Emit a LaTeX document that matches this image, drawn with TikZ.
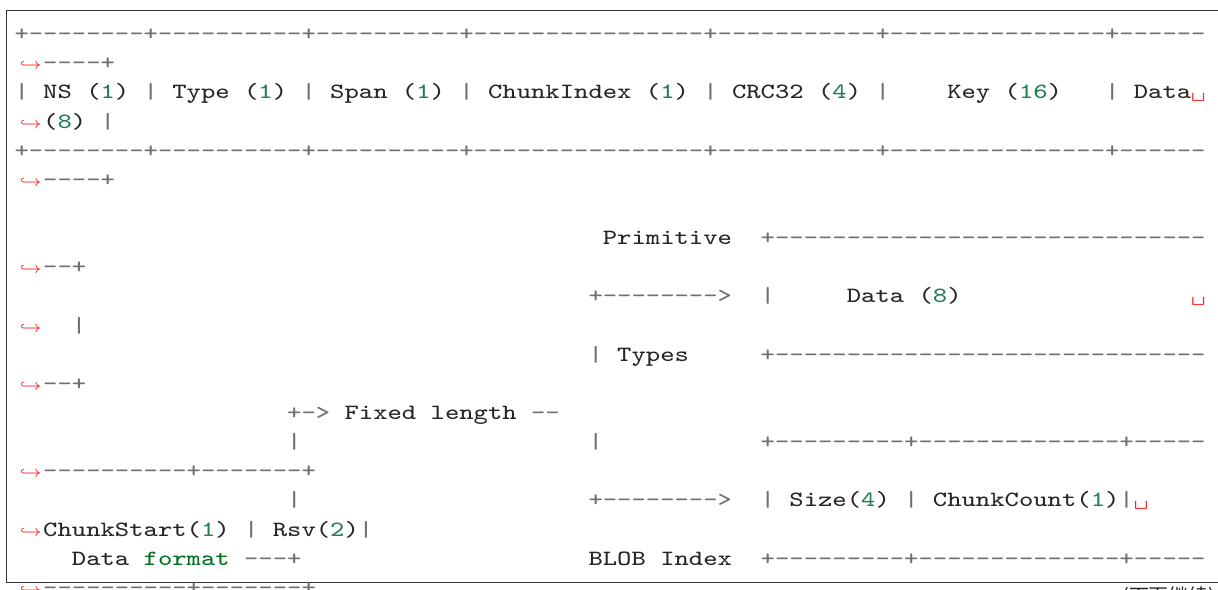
\documentclass[tikz,border=0pt]{standalone}
\usepackage{fontspec}
\usepackage{graphicx}
\newfontfamily\cjkfont{Noto Sans CJK SC}
\definecolor{op}{HTML}{707070}
\definecolor{num}{HTML}{208050}
\definecolor{bi}{HTML}{007020}
\definecolor{tx}{HTML}{262626}
\definecolor{brk}{HTML}{FF2020}
\definecolor{frm}{HTML}{333333}
\newlength\mycw
\newcommand\codefont{\fontsize{8.2pt}{10pt}\selectfont\ttfamily}
\newcommand\myrep[2]{\ifnum#1>0 #2\expandafter\myrep\expandafter{\the\numexpr#1-1\relax}{#2}\fi}
\newcommand\dsh[1]{\myrep{#1}{-\kern0pt}}
\newcommand\hsx[1]{\scalebox{\myfx}[1]{#1}}
\newcommand\ctok[5]{\node[code,text=#4] (#1) at (#2,#3) {\hsx{#5}};}
\newcommand\harr[2]{\node[brkarrow] (#1) at (1.9,#2) {$\hookrightarrow$};}
\tikzset{
  code/.style={anchor=base west, inner sep=0pt, outer sep=0pt, font=\codefont},
  brkarrow/.style={anchor=base east, inner sep=0pt, outer sep=0pt, text=brk, font=\fontsize{6pt}{7pt}\selectfont},
}
\AtBeginDocument{%
  \settowidth\mycw{\codefont xxxxxxxxxx}%
  \pgfmathsetmacro\myfx{54.006/\mycw}%
  \xdef\myfx{\myfx}%
}
\begin{document}
\begin{tikzpicture}[x=0.37635pt, y=-0.37635pt]
\useasboundingbox (0,0) rectangle (1218,589);
\clip (0,0) rectangle (1218,589);
% frame
\draw[frm, line width=0.5pt] (1240,10.5) -- (6.5,10.5) -- (6.5,582.5) -- (1240,582.5);
\begin{scope}[shift={(14.5,11.4)}, x=5.4006pt, y=-10.9706pt]
% L1
\ctok{r1}{0}{1}{op}{+\dsh{8}+\dsh{10}+\dsh{10}+\dsh{16}+\dsh{11}+\dsh{15}+\dsh{6}}
% L2
\harr{a2}{2}
\ctok{r2}{2}{2}{op}{\dsh{4}+}
% L3
\ctok{t3a}{0}{3}{op}{|}
\ctok{t3b}{2}{3}{tx}{NS (}
\ctok{t3c}{6}{3}{num}{1}
\ctok{t3d}{7}{3}{tx}{)}
\ctok{t3e}{9}{3}{op}{|}
\ctok{t3f}{11}{3}{tx}{Type (}
\ctok{t3g}{17}{3}{num}{1}
\ctok{t3h}{18}{3}{tx}{)}
\ctok{t3i}{20}{3}{op}{|}
\ctok{t3j}{22}{3}{tx}{Span (}
\ctok{t3k}{28}{3}{num}{1}
\ctok{t3l}{29}{3}{tx}{)}
\ctok{t3m}{31}{3}{op}{|}
\ctok{t3n}{33}{3}{tx}{ChunkIndex (}
\ctok{t3o}{45}{3}{num}{1}
\ctok{t3p}{46}{3}{tx}{)}
\ctok{t3q}{48}{3}{op}{|}
\ctok{t3r}{50}{3}{tx}{CRC32 (}
\ctok{t3s}{57}{3}{num}{4}
\ctok{t3t}{58}{3}{tx}{)}
\ctok{t3u}{60}{3}{op}{|}
\ctok{t3v}{65}{3}{tx}{Key (}
\ctok{t3w}{70}{3}{num}{16}
\ctok{t3x}{72}{3}{tx}{)}
\ctok{t3y}{76}{3}{op}{|}
\ctok{t3z}{78}{3}{tx}{Data}
\ctok{v3}{82}{3}{brk}{\textvisiblespace}
% L4
\harr{a4}{4}
\ctok{t4a}{2}{4}{tx}{(}
\ctok{t4b}{3}{4}{num}{8}
\ctok{t4c}{4}{4}{tx}{)}
\ctok{t4d}{6}{4}{op}{|}
% L5
\ctok{r5}{0}{5}{op}{+\dsh{8}+\dsh{10}+\dsh{10}+\dsh{16}+\dsh{11}+\dsh{15}+\dsh{6}}
% L6
\harr{a6}{6}
\ctok{r6}{2}{6}{op}{\dsh{4}+}
% L8
\ctok{t8a}{41}{8}{tx}{Primitive}
\ctok{t8b}{52}{8}{op}{+\dsh{30}}
% L9
\harr{a9}{9}
\ctok{r9}{2}{9}{op}{\dsh{2}+}
% L10
\ctok{t10a}{40}{10}{op}{+\dsh{8}>}
\ctok{t10b}{52}{10}{op}{|}
\ctok{t10c}{58}{10}{tx}{Data (}
\ctok{t10d}{64}{10}{num}{8}
\ctok{t10e}{65}{10}{tx}{)}
\ctok{v10}{82}{10}{brk}{\textvisiblespace}
% L11
\harr{a11}{11}
\ctok{t11a}{4}{11}{op}{|}
% L12
\ctok{t12a}{40}{12}{op}{|}
\ctok{t12b}{42}{12}{tx}{Types}
\ctok{t12c}{52}{12}{op}{+\dsh{30}}
% L13
\harr{a13}{13}
\ctok{r13}{2}{13}{op}{\dsh{2}+}
% L14
\ctok{t14a}{19}{14}{op}{+-\kern0pt>}
\ctok{t14b}{23}{14}{tx}{Fixed length}
\ctok{t14c}{36}{14}{op}{\dsh{2}}
% L15
\ctok{t15a}{19}{15}{op}{|}
\ctok{t15b}{40}{15}{op}{|}
\ctok{t15c}{52}{15}{op}{+\dsh{9}+\dsh{14}+\dsh{5}}
% L16
\harr{a16}{16}
\ctok{r16}{2}{16}{op}{\dsh{10}+\dsh{7}+}
% L17
\ctok{t17a}{19}{17}{op}{|}
\ctok{t17b}{40}{17}{op}{+\dsh{8}>}
\ctok{t17c}{52}{17}{op}{|}
\ctok{t17d}{54}{17}{tx}{Size(}
\ctok{t17e}{59}{17}{num}{4}
\ctok{t17f}{60}{17}{tx}{)}
\ctok{t17g}{62}{17}{op}{|}
\ctok{t17h}{64}{17}{tx}{ChunkCount(}
\ctok{t17i}{75}{17}{num}{1}
\ctok{t17j}{76}{17}{tx}{)}
\ctok{t17k}{77}{17}{op}{|}
\ctok{v17}{78}{17}{brk}{\textvisiblespace}
% L18
\harr{a18}{18}
\ctok{t18a}{2}{18}{tx}{ChunkStart(}
\ctok{t18b}{13}{18}{num}{1}
\ctok{t18c}{14}{18}{tx}{)}
\ctok{t18d}{16}{18}{op}{|}
\ctok{t18e}{18}{18}{tx}{Rsv(}
\ctok{t18f}{22}{18}{num}{2}
\ctok{t18g}{23}{18}{tx}{)}
\ctok{t18h}{24}{18}{op}{|}
% L19
\ctok{t19a}{4}{19}{tx}{Data}
\ctok{t19b}{9}{19}{bi}{format}
\ctok{t19c}{16}{19}{op}{\dsh{3}+}
\ctok{t19d}{40}{19}{tx}{BLOB Index}
\ctok{t19e}{52}{19}{op}{+\dsh{9}+\dsh{14}+\dsh{5}}
% L20
\harr{a20}{20}
\ctok{r20}{2}{20}{op}{\dsh{10}+\dsh{7}+}
\end{scope}
\node[anchor=base east, inner sep=0pt, text=tx, font=\cjkfont\fontsize{7.5pt}{9pt}\selectfont] (cont) at (1216,603) {(下页继续)};
\end{tikzpicture}
\end{document}
